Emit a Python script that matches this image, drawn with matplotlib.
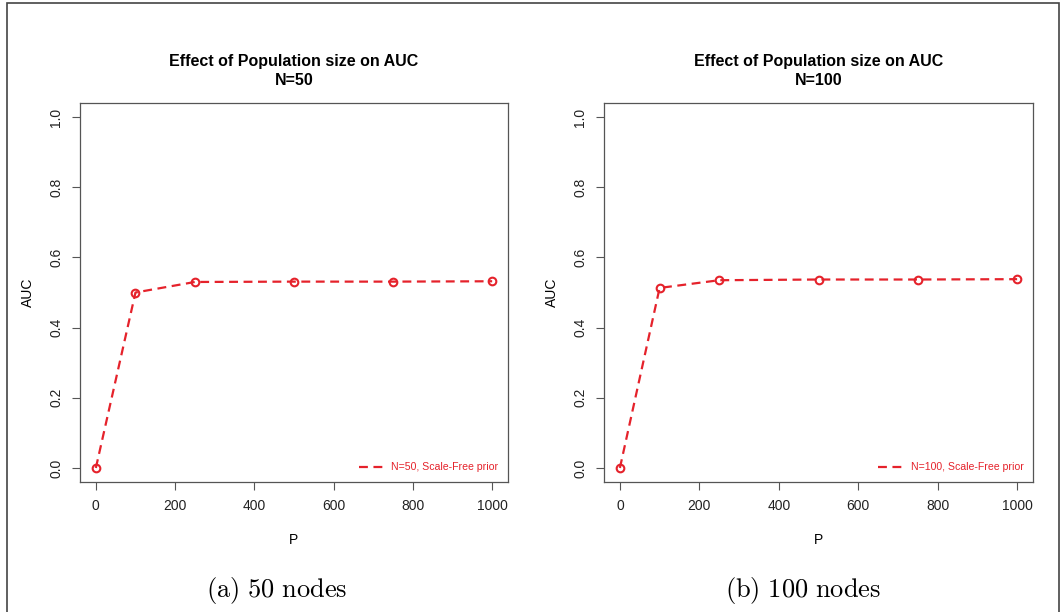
import matplotlib.pyplot as plt
from matplotlib.patches import Rectangle
from matplotlib.lines import Line2D

# data
pop_sizes = [0, 100, 250, 500, 750, 1000]
auc_50 = [0.0, 0.50, 0.53, 0.531, 0.531, 0.532]
auc_100 = [0.0, 0.513, 0.535, 0.537, 0.537, 0.538]
node_counts = [50, 100]
captions = ['(a)\\ 50\\ nodes', '(b)\\ 100\\ nodes']
x_ticks = [0, 200, 400, 600, 800, 1000]
y_ticks = [0.0, 0.2, 0.4, 0.6, 0.8, 1.0]

plt.rcParams['font.family'] = ['Liberation Sans', 'DejaVu Sans']
plt.rcParams['mathtext.fontset'] = 'cm'

W, H = 1060, 612
fig = plt.figure(figsize=(W / 100, H / 100), dpi=100)

red = '#e5222b'
dash = (0, (4, 2.5))
boxes = [(80, 508), (604, 1033)]
cap_x = [277, 803]
for (x0, x1), n, auc, cap, cx in zip(boxes, node_counts, [auc_50, auc_100], captions, cap_x):
    ax = fig.add_axes([x0 / W, (H - 482) / H, (x1 - x0) / W, 379 / H])
    ax.plot(pop_sizes, auc, color=red, ls=dash, lw=1.6,
            marker='o', ms=5.5, mfc='none', mec=red, mew=1.5)
    ax.set_xlim(-40, 1040)
    ax.set_ylim(-0.04, 1.04)
    ax.set_xticks(x_ticks)
    ax.set_yticks(y_ticks)
    ax.set_yticklabels([f'{v:.1f}' for v in y_ticks], rotation=90, va='center')
    ax.tick_params(direction='out', length=6, width=0.8, color='#555555',
                   labelsize=10, labelcolor='#222222', pad=6)
    for s in ax.spines.values():
        s.set_color('#555555')
        s.set_linewidth(0.9)
    ax.set_xlabel('P', fontsize=10, labelpad=15)
    ax.set_ylabel('AUC', fontsize=10, labelpad=10)
    ax.set_title(f'Effect of Population size on AUC\nN={n}', fontsize=11.5,
                 fontweight='bold', pad=13, linespacing=1.3)
    handle = Line2D([], [], color=red, ls=dash, lw=1.6)
    leg = ax.legend([handle], [f'N={n}, Scale-Free prior'], loc='lower right',
                    frameon=False, fontsize=7.6, handlelength=2.4,
                    handletextpad=0.7, borderaxespad=0.5)
    for t in leg.get_texts():
        t.set_color(red)
    fig.text(cx / W, (H - 591) / H, f'$\\mathrm{{{cap}}}$',
             ha='center', va='center', fontsize=19)

# outer frame of the figure panel
fig.patches.append(Rectangle((7 / W, -0.05), (1059 - 7) / W, (H - 3) / H + 0.05,
                             transform=fig.transFigure, fill=False,
                             edgecolor='#444444', lw=1.2))

fig.savefig('out.png', dpi=100)
